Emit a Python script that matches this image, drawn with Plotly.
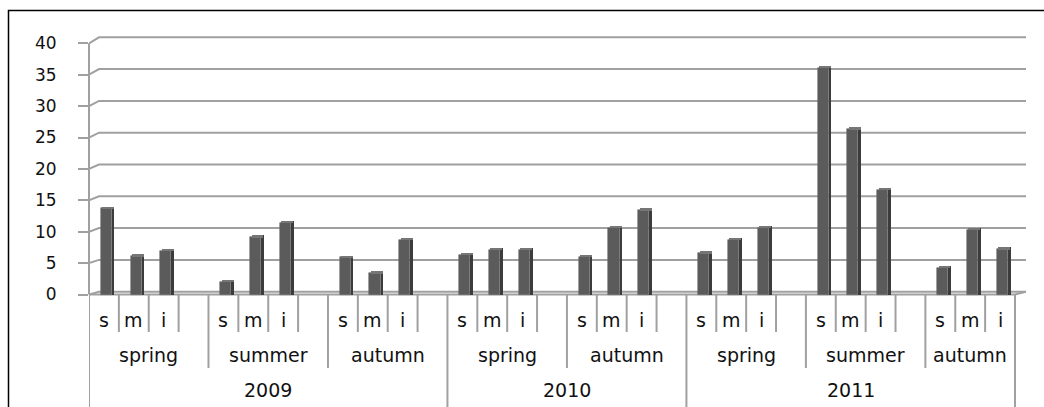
import plotly.graph_objects as go

# Category hierarchy: year -> season -> s / m / i
years = ["2009", "2010", "2011"]
seasons_by_year = {
    "2009": ["spring", "summer", "autumn"],
    "2010": ["spring", "autumn"],
    "2011": ["spring", "summer", "autumn"],
}
sub_labels = ["s", "m", "i"]

# Values for each season group, in order of appearance
s_values = [13.7, 2.0, 5.9, 6.3, 6.0, 6.6, 36.1, 4.3]
m_values = [6.1, 9.1, 3.4, 7.1, 10.6, 8.7, 26.3, 10.3]
i_values = [7.0, 11.4, 8.7, 7.1, 13.4, 10.6, 16.7, 7.2]

y_ticks = [0, 5, 10, 15, 20, 25, 30, 35, 40]

# ---- build slot layout (each season gets s, m, i and a spacer, except the last) ----
groups = [(y, s) for y in years for s in seasons_by_year[y]]
slot_sub, slot_val, slot_season, slot_year = [], [], [], []
for g, (yr, season) in enumerate(groups):
    vals = [s_values[g], m_values[g], i_values[g]]
    n = 3 if g == len(groups) - 1 else 4
    for k in range(n):
        slot_sub.append(sub_labels[k] if k < 3 else "")
        slot_val.append(vals[k] if k < 3 else None)
        slot_season.append(g)
        slot_year.append(yr)
n_slots = len(slot_sub)

# ---- pixel helpers for the axis frame ----
W, H = 1044, 407
X0_PX, X_END_PX, X_RIGHT_PX = 89, 1015, 1026
PX_PER_SLOT = (X_END_PX - X0_PX) / n_slots
Y0_PX, PX_PER_UNIT = 294.5, (294.5 - 43.3) / 40
BACK_Y0_PX, BACK_PX_PER_UNIT, BACK_X_PX = 291.7, (291.7 - 37.3) / 40, 99
TOP_PX = 30
L, R, T, B = X0_PX, W - X_RIGHT_PX, TOP_PX, 0


def xd(px):
    return (px - X0_PX) / PX_PER_SLOT


def yd(py):
    return (Y0_PX - py) / PX_PER_UNIT


def paper_x(px):
    return (px - L) / (W - L - R)


def paper_y(py):
    return (H - B - py) / (H - T - B)


centers = [i + 0.5 for i in range(n_slots)]
bar_x = [c for c, v in zip(centers, slot_val) if v is not None]
bar_y = [v for v in slot_val if v is not None]

fig = go.Figure()
# front faces
fig.add_trace(go.Bar(
    x=bar_x, y=bar_y, width=0.37, offset=-0.11,
    marker=dict(color="#5b5b5b", line=dict(color="#6e6e6e", width=0.6)),
    hoverinfo="y", showlegend=False,
))
# right side faces (depth)
fig.add_trace(go.Bar(
    x=bar_x, y=[v + 0.3 for v in bar_y], width=0.09, offset=0.26,
    marker=dict(color="#3c3c3c", line=dict(width=0)),
    hoverinfo="skip", showlegend=False,
))
# top faces
fig.add_trace(go.Bar(
    x=bar_x, y=[0.3] * len(bar_y), base=bar_y, width=0.4, offset=-0.06,
    marker=dict(color="#767676", line=dict(width=0)),
    hoverinfo="skip", showlegend=False,
))

shapes = []
grid_col = "#a0a0a0"
# back-wall gridlines with the short perspective stub from the value axis
for v in y_ticks:
    by = BACK_Y0_PX - BACK_PX_PER_UNIT * v
    path = (f"M {xd(X0_PX)} {v} L {xd(BACK_X_PX)} {yd(by)} "
            f"L {xd(X_RIGHT_PX)} {yd(by)}")
    shapes.append(dict(type="path", path=path, xref="x", yref="y",
                       line=dict(color=grid_col, width=2), layer="below"))
# floor front edge and right-hand corner
shapes.append(dict(type="path",
                   path=f"M {xd(X0_PX)} 0 L {xd(X_END_PX)} 0 L {xd(X_RIGHT_PX)} {yd(BACK_Y0_PX)}",
                   xref="x", yref="y", line=dict(color=grid_col, width=2), layer="below"))
# value axis line
shapes.append(dict(type="line", xref="paper", yref="y", x0=0, x1=0, y0=0, y1=40,
                   line=dict(color=grid_col, width=2)))

# category dividers
season_bounds, year_bounds = set(), set()
for i in range(1, n_slots):
    if slot_season[i] != slot_season[i - 1]:
        season_bounds.add(i)
    if slot_year[i] != slot_year[i - 1]:
        year_bounds.add(i)
year_bounds |= {0, n_slots}
for b in range(n_slots + 1):
    if b in year_bounds:
        bottom = H
    elif b in season_bounds:
        bottom = 368
    else:
        bottom = 332
    shapes.append(dict(type="line", xref="x", yref="y", x0=b, x1=b,
                       y0=yd(295), y1=yd(bottom),
                       line=dict(color=grid_col, width=2)))

# outer frame
shapes.append(dict(type="path", xref="paper", yref="paper",
                   path=f"M {paper_x(8.5)} {paper_y(H + 2)} L {paper_x(8.5)} {paper_y(10.5)} "
                        f"L {paper_x(W + 2)} {paper_y(10.5)}",
                   line=dict(color="#000000", width=1.5)))

annotations = []
font = dict(family="DejaVu Sans", size=19, color="#111111")
for i, lab in enumerate(slot_sub):
    if lab:
        annotations.append(dict(x=centers[i], y=yd(320), xref="x", yref="y", text=lab,
                                showarrow=False, font=font, xanchor="center", yanchor="middle"))
for g, (yr, season) in enumerate(groups):
    idx = [i for i in range(n_slots) if slot_season[i] == g]
    annotations.append(dict(x=(idx[0] + idx[-1] + 1) / 2, y=yd(355), xref="x", yref="y",
                            text=season, showarrow=False, font=font))
for yr in years:
    idx = [i for i in range(n_slots) if slot_year[i] == yr]
    annotations.append(dict(x=(idx[0] + idx[-1] + 1) / 2, y=yd(390), xref="x", yref="y",
                            text=yr, showarrow=False, font=font))

fig.update_layout(
    width=W, height=H, autosize=False,
    margin=dict(l=L, r=R, t=T, b=B, pad=0),
    paper_bgcolor="white", plot_bgcolor="white",
    barmode="overlay", bargap=0,
    shapes=shapes, annotations=annotations,
    xaxis=dict(range=[0, xd(X_RIGHT_PX)], showgrid=False, zeroline=False,
               showticklabels=False, showline=False, ticks=""),
    yaxis=dict(range=[yd(H), yd(TOP_PX)], tickvals=y_ticks, showgrid=False,
               zeroline=False, showline=False, ticks="outside", ticklen=10,
               tickwidth=2, tickcolor=grid_col, ticklabelstandoff=18,
               tickfont=dict(family="DejaVu Sans", size=17, color="#111111")),
)

fig.write_html("out.html")
